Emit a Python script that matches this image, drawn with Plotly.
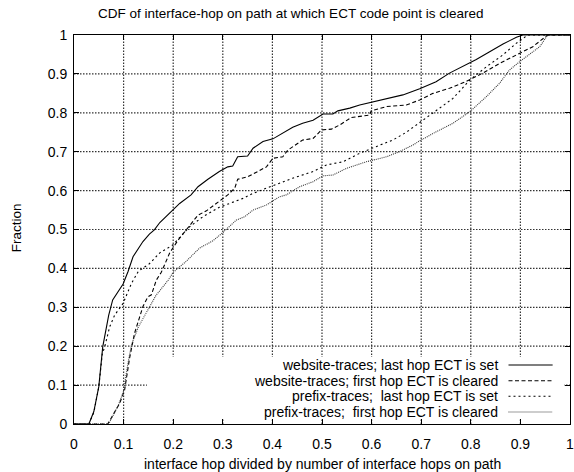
import plotly.graph_objects as go

# ---- data ----
ws_last_x = [0, 0.030, 0.040, 0.050, 0.058, 0.070, 0.078, 0.099, 0.109, 0.119, 0.139, 0.152, 0.162, 0.173,
             0.199, 0.213, 0.236, 0.250, 0.270, 0.293, 0.310, 0.320, 0.330, 0.350, 0.361, 0.381, 0.401,
             0.421, 0.441, 0.461, 0.482, 0.502, 0.522, 0.532, 0.556, 0.576, 0.599, 0.630, 0.663, 0.697,
             0.730, 0.757, 0.784, 0.811, 0.838, 0.865, 0.892, 0.905, 1.0]
ws_last_y = [0, 0, 0.032, 0.096, 0.199, 0.280, 0.319, 0.360, 0.392, 0.430, 0.469, 0.488, 0.499, 0.518,
             0.550, 0.567, 0.589, 0.610, 0.629, 0.649, 0.661, 0.663, 0.687, 0.689, 0.709, 0.726, 0.733,
             0.749, 0.763, 0.773, 0.781, 0.797, 0.797, 0.805, 0.812, 0.820, 0.827, 0.835, 0.846, 0.862,
             0.880, 0.902, 0.919, 0.937, 0.957, 0.977, 0.994, 1.0, 1.0]

ws_first_x = [0, 0.068, 0.092, 0.102, 0.112, 0.122, 0.139, 0.149, 0.156, 0.166, 0.176, 0.193, 0.210, 0.230,
              0.250, 0.267, 0.287, 0.310, 0.324, 0.330, 0.351, 0.371, 0.388, 0.401, 0.421, 0.431, 0.461,
              0.482, 0.499, 0.519, 0.536, 0.559, 0.596, 0.599, 0.630, 0.670, 0.697, 0.724, 0.757, 0.790,
              0.824, 0.858, 0.892, 0.925, 0.955, 1.0]
ws_first_y = [0, 0, 0.053, 0.087, 0.169, 0.233, 0.302, 0.327, 0.332, 0.370, 0.390, 0.440, 0.473, 0.505,
              0.537, 0.548, 0.568, 0.589, 0.606, 0.629, 0.636, 0.649, 0.661, 0.683, 0.687, 0.704, 0.730,
              0.734, 0.756, 0.758, 0.769, 0.788, 0.794, 0.805, 0.816, 0.820, 0.833, 0.850, 0.863, 0.880,
              0.902, 0.927, 0.949, 0.970, 1.0, 1.0]

pf_last_x = [0, 0.030, 0.040, 0.050, 0.057, 0.062, 0.072, 0.082, 0.099, 0.116, 0.130, 0.152, 0.173, 0.199,
             0.233, 0.260, 0.293, 0.320, 0.341, 0.361, 0.388, 0.414, 0.441, 0.482, 0.509, 0.542, 0.576,
             0.609, 0.643, 0.670, 0.697, 0.730, 0.764, 0.798, 0.831, 0.865, 0.892, 0.915, 1.0]
pf_last_y = [0, 0, 0.030, 0.095, 0.180, 0.199, 0.250, 0.280, 0.310, 0.362, 0.393, 0.412, 0.440, 0.460,
             0.507, 0.533, 0.557, 0.571, 0.580, 0.593, 0.606, 0.619, 0.632, 0.649, 0.666, 0.674, 0.696,
             0.713, 0.730, 0.750, 0.775, 0.807, 0.837, 0.884, 0.918, 0.949, 0.979, 1.0, 1.0]

pf_first_x = [0, 0.070, 0.090, 0.100, 0.108, 0.116, 0.130, 0.149, 0.165, 0.190, 0.200, 0.226, 0.253, 0.280,
              0.300, 0.327, 0.344, 0.361, 0.388, 0.414, 0.428, 0.455, 0.482, 0.502, 0.522, 0.549, 0.589,
              0.630, 0.656, 0.683, 0.697, 0.730, 0.764, 0.798, 0.831, 0.858, 0.878, 0.898, 0.918, 0.939,
              0.955, 1.0]
pf_first_y = [0, 0, 0.050, 0.085, 0.150, 0.205, 0.250, 0.295, 0.330, 0.370, 0.390, 0.418, 0.452, 0.471,
              0.492, 0.524, 0.533, 0.550, 0.563, 0.584, 0.589, 0.610, 0.623, 0.638, 0.640, 0.657, 0.674,
              0.687, 0.700, 0.717, 0.728, 0.751, 0.773, 0.803, 0.841, 0.876, 0.910, 0.931, 0.949, 0.970,
              1.0, 1.0]

series_names = ["website-traces; last hop ECT is set",
                "website-traces; first hop ECT is cleared",
                "prefix-traces;  last hop ECT is set",
                "prefix-traces;  first hop ECT is cleared"]
tick_vals = [0, 0.1, 0.2, 0.3, 0.4, 0.5, 0.6, 0.7, 0.8, 0.9, 1]
tick_text = ["0", "0.1", "0.2", "0.3", "0.4", "0.5", "0.6", "0.7", "0.8", "0.9", "1"]

title_text = "CDF of interface-hop on path at which ECT code point is cleared"
x_title = "interface hop divided by number of interface hops on path"
y_title = "Fraction"

FONT = "Liberation Sans, Arial, Helvetica, sans-serif"
styles = [dict(color="black", width=1.1, dash="solid"),
          dict(color="black", width=1.1, dash="4px,2.5px"),
          dict(color="black", width=1.1, dash="2px,3px"),
          dict(color="#3a3a3a", width=1.1, dash="1px,1px")]
grid_style = dict(color="#333333", width=1.2, dash="1.5px,1.5px")

data = [(ws_last_x, ws_last_y), (ws_first_x, ws_first_y), (pf_last_x, pf_last_y), (pf_first_x, pf_first_y)]

fig = go.Figure()
for (xs, ys), name, st in zip(data, series_names, styles):
    fig.add_trace(go.Scatter(x=xs, y=ys, mode="lines", name=name, line=st, showlegend=False))

# fine dotted grid (gnuplot style) at the inner tick positions
for v in tick_vals[1:-1]:
    fig.add_shape(type="line", xref="x", yref="y", x0=v, x1=v, y0=0, y1=1, line=grid_style, layer="below")
    fig.add_shape(type="line", xref="x", yref="y", x0=0, x1=1, y0=v, y1=v, line=grid_style, layer="below")

axis_common = dict(range=[0, 1], tickvals=tick_vals, ticktext=tick_text, showline=True, linecolor="black",
                   linewidth=1, mirror="allticks", ticks="inside", ticklen=5, tickcolor="black",
                   showgrid=False, zeroline=False, tickfont=dict(family=FONT, size=14, color="black"),
                   ticklabeloverflow="allow", fixedrange=True)
fig.update_xaxes(**axis_common, ticklabelstandoff=7)
fig.update_yaxes(**axis_common, ticklabelstandoff=3)

# gnuplot-style key: white box, text right-aligned, line sample on the right
fig.add_shape(type="rect", xref="x", yref="y", x0=0.147, x1=0.988, y0=0.014, y1=0.172,
              fillcolor="white", line=dict(width=0), layer="above")
key_rows = [0.1517, 0.1113, 0.0712, 0.0308]
for name, st, ky in zip(series_names, styles, key_rows):
    fig.add_annotation(x=0.858, y=ky, xref="x", yref="y", text=name.replace("  ", "&nbsp; "),
                       showarrow=False, xanchor="right", yanchor="middle",
                       font=dict(family=FONT, size=14, color="black"))
    fig.add_shape(type="line", xref="x", yref="y", x0=0.876, x1=0.965, y0=ky, y1=ky,
                  line=st, layer="above")

fig.add_annotation(text=title_text, x=0.4367, y=1.056, xref="paper", yref="paper", showarrow=False,
                   xanchor="center", yanchor="middle", font=dict(family=FONT, size=13.5, color="black"))
fig.add_annotation(text=x_title, x=0.5, y=-0.1028, xref="paper", yref="paper", showarrow=False,
                   xanchor="center", yanchor="middle", font=dict(family=FONT, size=14, color="black"))
fig.add_annotation(text=y_title, x=-0.1157, y=0.505, xref="paper", yref="paper", showarrow=False,
                   textangle=-90, xanchor="center", yanchor="middle",
                   font=dict(family=FONT, size=13.5, color="black"))

fig.update_layout(width=574, height=472, margin=dict(l=74, r=4, t=35, b=48, autoexpand=False),
                  paper_bgcolor="white", plot_bgcolor="white", showlegend=False)

# remove the browser's default 8px body margin so the figure fills the window exactly
fig.write_html("out.html", config={"displayModeBar": False},
               post_script="document.body.style.margin='0px';")
